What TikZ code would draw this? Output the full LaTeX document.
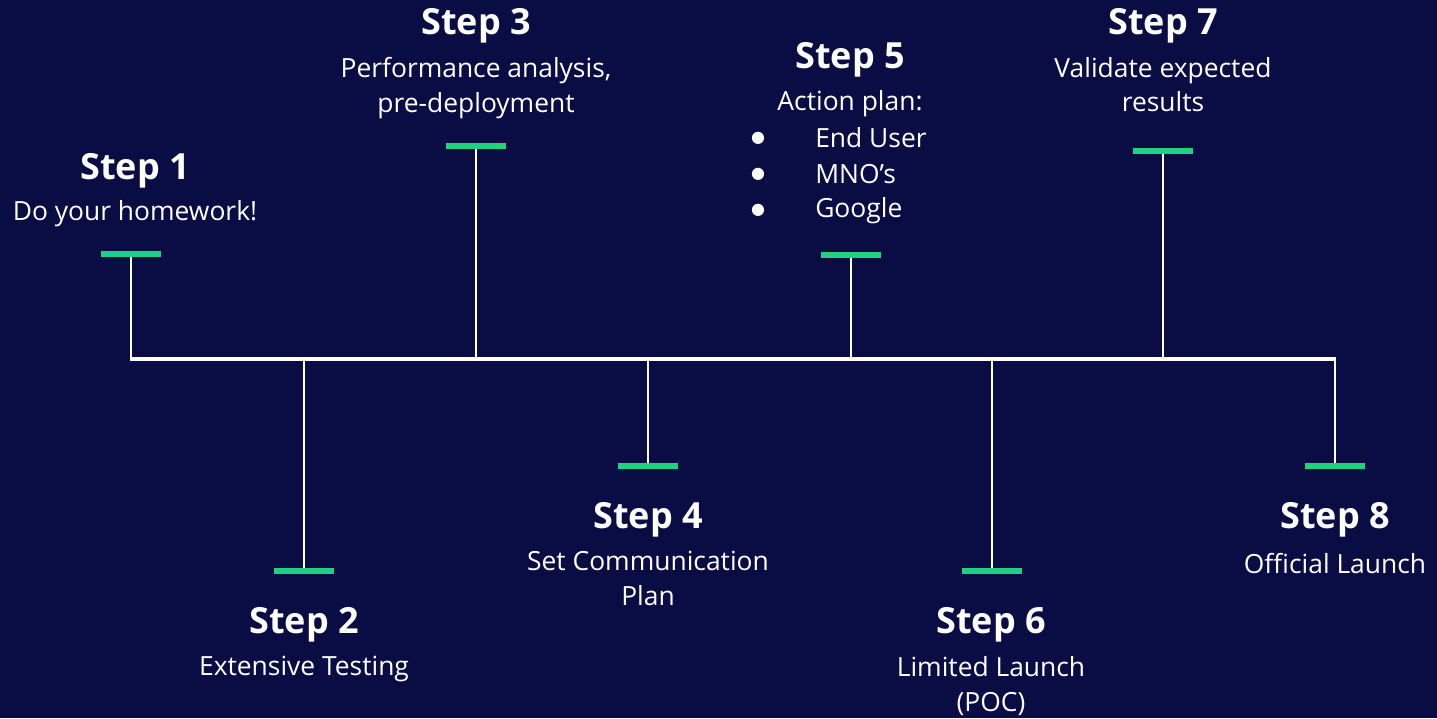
\documentclass[tikz,border=0pt]{standalone}
\usepackage{fontspec}
\setmainfont{Open Sans}[BoldFont={Open Sans Bold}]
\newfontfamily\dotfont{DejaVu Sans}
\definecolor{bgnavy}{HTML}{0A0C44}
\definecolor{mint}{HTML}{1ED184}
\begin{document}
\begin{tikzpicture}[x=0.75pt,y=-0.75pt,
  title/.style={text=white,font=\fontsize{27}{32}\selectfont\bfseries,inner sep=0pt,anchor=center},
  sub/.style={text=white,font=\fontsize{19.8}{26}\selectfont,inner sep=0pt,anchor=center,align=center},
  bar/.style={fill=mint,draw=none,minimum width=45pt,minimum height=4.5pt,inner sep=0pt},
  stem/.style={draw=white,line width=1.5pt},
  axis/.style={draw=white,line width=3.6pt},
  dot/.style={text=white,font=\dotfont\fontsize{12}{14}\selectfont,inner sep=0pt,anchor=center}]
\fill[bgnavy] (0,0) rectangle (1437,718);
\useasboundingbox (0,0) rectangle (1437,718);
% timeline points
\coordinate (t1) at (131,359);
\coordinate (t2) at (304,359);
\coordinate (t3) at (476,359);
\coordinate (t4) at (648,359);
\coordinate (t5) at (851,359);
\coordinate (t6) at (992,359);
\coordinate (t7) at (1163,359);
\coordinate (t8) at (1335,359);
% bars
\node[bar] (b1) at (131,254) {};
\node[bar] (b2) at (304,571) {};
\node[bar] (b3) at (476,146) {};
\node[bar] (b4) at (648,466) {};
\node[bar] (b5) at (851,255) {};
\node[bar] (b6) at (992,571) {};
\node[bar] (b7) at (1163,151) {};
\node[bar] (b8) at (1335,466) {};
% stems
\foreach \i in {1,...,8} {\draw[stem] (t\i) -- (b\i.center);}
\foreach \i in {1,...,8} {\node[bar] at (b\i) {};}
% axis
\draw[axis] ([xshift=-0.75pt]t1) -- ([xshift=0.75pt]t8);
% texts
\node[title] (s1) at (135,171) {Step 1};
\node[sub] (d1) at (135,214) {Do your homework!};
\node[title] (s2) at (304,625) {Step 2};
\node[sub] (d2) at (304,669) {Extensive Testing};
\node[title] (s3) at (476,26) {Step 3};
\node[sub,anchor=north] (d3) at (476,57) {Performance analysis,\\pre-deployment};
\node[title] (s4) at (648,520) {Step 4};
\node[sub,anchor=north] (d4) at (648,551) {Set Communication\\Plan};
\node[title] (s5) at (850,60) {Step 5};
\node[sub] (d5) at (850,104) {Action plan:};
\node[dot] (u1) at (758,138) {●};
\node[dot] (u2) at (758,174) {●};
\node[dot] (u3) at (758,210) {●};
\node[sub,anchor=west] (i1) at (815,138) {End User};
\node[sub,anchor=west] (i2) at (815,174) {MNO’s};
\node[sub,anchor=west] (i3) at (815,211) {Google};
\node[title] (s6) at (991,625) {Step 6};
\node[sub,anchor=north] (d6) at (991,656) {Limited Launch\\(POC)};
\node[title] (s7) at (1163,26) {Step 7};
\node[sub,anchor=north] (d7) at (1163,57) {Validate expected\\results};
\node[title] (s8) at (1335,520) {Step 8};
\node[sub] (d8) at (1335,564) {Official Launch};
\end{tikzpicture}
\end{document}
